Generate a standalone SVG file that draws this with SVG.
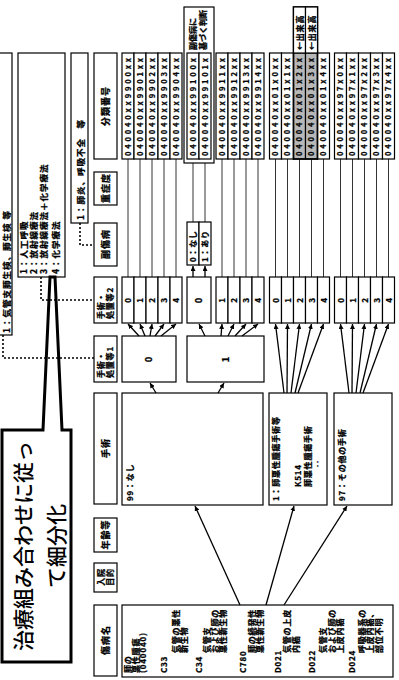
<svg xmlns="http://www.w3.org/2000/svg" width="399" height="680" viewBox="0 0 399 680">
<defs>
<style>
.b{fill:#fff;stroke:#000;stroke-width:1.2}
.t{font-family:"Noto Sans CJK JP","Noto Sans",sans-serif;font-size:8px;font-weight:bold;fill:#000;stroke:#000;stroke-width:0.3;letter-spacing:0.8px}
.h{font-size:9px;letter-spacing:1px}
.d{font-size:8.5px;letter-spacing:1px}
.s{letter-spacing:0}
.c{text-anchor:middle}
.code{font-family:"Noto Sans CJK JP","Noto Sans",sans-serif;font-size:7.5px;font-weight:bold;fill:#000;stroke:#000;stroke-width:0.25}
.ln{stroke:#000;stroke-width:0.8;fill:none}
.ar{stroke:#000;stroke-width:1.3;fill:none;marker-end:url(#ah)}
.dot{stroke:#000;stroke-width:1.6;fill:none;stroke-dasharray:2 2}
.sh{fill:#b8b8b8;stroke:#000;stroke-width:1.2}
.big{font-family:"Noto Sans CJK JP","Noto Sans",sans-serif;font-size:21px;font-weight:500;fill:#000;text-anchor:middle}
</style>
<marker id="ah" viewBox="0 0 10 10" refX="10" refY="5" markerWidth="5" markerHeight="5" markerUnits="userSpaceOnUse" orient="auto"><path d="M0,0 L10,5 L0,10 z"/></marker>
</defs>
<rect width="399" height="680" fill="#fff"/>
<g transform="translate(0,680) rotate(-90)">

<!-- headers -->
<g id="hdr-bunrui"><rect class="b" x="521" y="94" width="106" height="23"/><text class="t h c" x="574" y="108.5">分類番号</text></g>
<g id="hdr-jusho"><rect class="b" x="475" y="94" width="33" height="23"/><text class="t h c" x="492" y="108.5">重症度</text></g>
<g id="hdr-fukushobyo"><rect class="b" x="414" y="94" width="43" height="23"/><text class="t h c" x="436" y="108.5">副傷病</text></g>
<g id="hdr-shochi2"><rect class="b" x="357" y="94" width="46" height="23"/><text class="t" x="361" y="103.5">手術・</text><text class="t" x="361" y="113">処置等2</text></g>
<g id="hdr-shochi1"><rect class="b" x="298" y="94" width="46" height="23"/><text class="t" x="302" y="103.5">手術・</text><text class="t" x="302" y="113">処置等1</text></g>
<g id="hdr-shujutsu"><rect class="b" x="176" y="94" width="111" height="23"/><text class="t h c" x="232" y="108.5">手術</text></g>
<g id="hdr-nenrei"><rect class="b" x="128" y="94" width="34" height="23"/><text class="t h c" x="145.5" y="108.5">年齢等</text></g>
<g id="hdr-nyuin"><rect class="b" x="88" y="94" width="29" height="23"/><text class="t c" x="103" y="104">入院</text><text class="t c" x="103" y="113">目的</text></g>
<g id="hdr-shobyo"><rect class="b" x="4" y="94" width="71" height="23"/><text class="t h c" x="40" y="108.5">傷病名</text></g>

<!-- definition boxes -->
<g id="def-shochi1"><rect class="b" x="345" y="-3" width="282" height="15"/><text class="t d" x="347" y="9.5">1：気管支肺生検、肺生検 等</text></g>
<g id="def-shochi2"><rect class="b" x="403" y="18" width="224" height="47"/>
<text class="t d" x="406" y="26.5">1：人工呼吸</text>
<text class="t d" x="406" y="36.5">2：放射線療法</text>
<text class="t d" x="406" y="46.5">3：放射線療法＋化学療法</text>
<text class="t d" x="406" y="58.5">4：化学療法</text></g>
<g id="def-fuku"><rect class="b" x="457" y="71" width="170" height="17"/><text class="t d" x="460" y="83.5">1：肺炎、呼吸不全　等</text></g>

<!-- callout -->
<g id="callout"><path d="M18,2 L250,2 L250,43 L403,50 L403,55 L250,62 L250,71 L18,71 Z" fill="#fff" stroke="#000" stroke-width="3" stroke-linejoin="miter"/>
<text class="big" x="134" y="31">治療組み合わせに従っ</text>
<text class="big" x="134" y="63.5">て細分化</text></g>

<!-- diagnosis -->
<g id="node-diag"><rect class="b" x="3" y="122" width="72" height="271"/>
<text class="t" x="7" y="131">肺の</text>
<text class="t" x="7" y="138.5">悪性腫瘍</text>
<text class="t" x="7" y="146">(040040)</text>
<text class="t" x="7" y="167">C33</text>
<text class="t" x="27" y="178.5">気管の悪性</text>
<text class="t" x="27" y="186.5">新生物</text>
<text class="t" x="7" y="201.5">C34</text>
<text class="t" x="27" y="210">気管支</text>
<text class="t" x="27" y="218">および肺の</text>
<text class="t" x="27" y="226">悪性新生物</text>
<text class="t" x="7" y="246">C780</text>
<text class="t" x="27" y="255">肺の続発性</text>
<text class="t" x="27" y="263">悪性新生物</text>
<text class="t" x="7" y="281">D021</text>
<text class="t" x="27" y="290">気管の上皮</text>
<text class="t" x="27" y="299">内癌</text>
<text class="t" x="7" y="315">D022</text>
<text class="t" x="27" y="326">気管支</text>
<text class="t" x="27" y="334.5">および肺の</text>
<text class="t" x="27" y="343">上皮内癌</text>
<text class="t" x="7" y="355">D024</text>
<text class="t" x="27" y="364.5">呼吸器系の</text>
<text class="t" x="27" y="373">上皮内癌、</text>
<text class="t" x="27" y="381.5">部位不明</text>
</g>

<!-- surgery -->
<g id="node-sx99"><rect class="b" x="175" y="122" width="112" height="141"/><text class="t" x="179" y="132.5">99：なし</text></g>
<g id="node-sx01"><rect class="b" x="175" y="269" width="112" height="58"/>
<text class="t" x="179" y="278.5">1：肺悪性腫瘍手術等</text>
<text class="t" x="193" y="300.5">K514</text>
<text class="t" x="193" y="311">肺悪性腫瘍手術</text>
<text class="t" x="212" y="321">‥</text></g>
<g id="node-sx97"><rect class="b" x="175" y="334" width="112" height="58"/><text class="t" x="179" y="344.5">97：その他の手術</text></g>

<!-- proc1 -->
<g id="node-p1-0"><rect class="b" x="298" y="122" width="46" height="54"/><text class="t h c" x="321" y="152">0</text></g>
<g id="node-p1-1"><rect class="b" x="298" y="187" width="46" height="77"/><text class="t h c" x="321" y="228.5">1</text></g>

<!-- proc2 -->
<g id="node-p2-a">
<rect class="b" x="357" y="122" width="46" height="12"/><rect class="b" x="357" y="134" width="46" height="12"/><rect class="b" x="357" y="146" width="46" height="12"/><rect class="b" x="357" y="158" width="46" height="12"/><rect class="b" x="357" y="170" width="46" height="12"/>
<text class="t c" x="380" y="131">0</text><text class="t c" x="380" y="143">1</text><text class="t c" x="380" y="155">2</text><text class="t c" x="380" y="167">3</text><text class="t c" x="380" y="179">4</text></g>
<g id="node-p2-b"><rect class="b" x="357" y="187" width="46" height="24"/><text class="t h c" x="380" y="202">0</text></g>
<g id="node-p2-c">
<rect class="b" x="357" y="216" width="46" height="12"/><rect class="b" x="357" y="228" width="46" height="12"/><rect class="b" x="357" y="240" width="46" height="12"/><rect class="b" x="357" y="252" width="46" height="12"/>
<text class="t c" x="380" y="225">1</text><text class="t c" x="380" y="237">2</text><text class="t c" x="380" y="249">3</text><text class="t c" x="380" y="261">4</text></g>
<g id="node-p2-d">
<rect class="b" x="357" y="269.5" width="46" height="12"/><rect class="b" x="357" y="281.5" width="46" height="12"/><rect class="b" x="357" y="293.5" width="46" height="12"/><rect class="b" x="357" y="305.5" width="46" height="12"/><rect class="b" x="357" y="317.5" width="46" height="12"/>
<text class="t c" x="380" y="278.5">0</text><text class="t c" x="380" y="290.5">1</text><text class="t c" x="380" y="302.5">2</text><text class="t c" x="380" y="314.5">3</text><text class="t c" x="380" y="326.5">4</text></g>
<g id="node-p2-e">
<rect class="b" x="357" y="334.5" width="46" height="12"/><rect class="b" x="357" y="346.5" width="46" height="12"/><rect class="b" x="357" y="358.5" width="46" height="12"/><rect class="b" x="357" y="370.5" width="46" height="12"/><rect class="b" x="357" y="382.5" width="46" height="12"/>
<text class="t c" x="380" y="343.5">0</text><text class="t c" x="380" y="355.5">1</text><text class="t c" x="380" y="367.5">2</text><text class="t c" x="380" y="379.5">3</text><text class="t c" x="380" y="391.5">4</text></g>

<!-- fukushobyo -->
<g id="node-fuku"><rect class="b" x="415" y="187" width="43" height="12"/><rect class="b" x="415" y="199" width="43" height="12"/>
<text class="t" x="418" y="196">0：なし</text><text class="t" x="418" y="208">1：あり</text></g>

<!-- codes -->
<g id="codes-a">
<rect class="b" x="521" y="122" width="106" height="12"/><rect class="b" x="521" y="134" width="106" height="12"/><rect class="b" x="521" y="146" width="106" height="12"/><rect class="b" x="521" y="158" width="106" height="12"/><rect class="b" x="521" y="170" width="106" height="12"/>
<text class="code" x="524" y="130.7" textLength="98">040040xx9900xx</text>
<text class="code" x="524" y="142.7" textLength="98">040040xx9901xx</text>
<text class="code" x="524" y="154.7" textLength="98">040040xx9902xx</text>
<text class="code" x="524" y="166.7" textLength="98">040040xx9903xx</text>
<text class="code" x="524" y="178.7" textLength="98">040040xx9904xx</text></g>
<g id="codes-b"><rect class="b" x="517" y="184" width="156" height="30"/>
<rect class="b" x="521" y="187" width="106" height="12"/><rect class="b" x="521" y="199" width="106" height="12"/>
<text class="code" x="524" y="195.7" textLength="98">040040xx99100x</text>
<text class="code" x="524" y="207.7" textLength="98">040040xx99101x</text>
<text class="t s" x="630" y="196">副傷病に</text>
<text class="t s" x="630" y="206">基づく判断</text></g>
<g id="codes-c">
<rect class="b" x="521" y="216" width="106" height="12"/><rect class="b" x="521" y="228" width="106" height="12"/><rect class="b" x="521" y="240" width="106" height="12"/><rect class="b" x="521" y="252" width="106" height="12"/>
<text class="code" x="524" y="224.7" textLength="98">040040xx9911xx</text>
<text class="code" x="524" y="236.7" textLength="98">040040xx9912xx</text>
<text class="code" x="524" y="248.7" textLength="98">040040xx9913xx</text>
<text class="code" x="524" y="260.7" textLength="98">040040xx9914xx</text></g>
<g id="codes-d">
<rect class="b" x="521" y="269.5" width="106" height="12"/><rect class="b" x="521" y="281.5" width="106" height="12"/><rect class="sh" x="521" y="293.5" width="106" height="12"/><rect class="sh" x="521" y="305.5" width="106" height="12"/><rect class="b" x="521" y="317.5" width="106" height="12"/>
<rect x="521" y="293.5" width="152" height="24" fill="none" stroke="#000" stroke-width="1.6"/>
<rect class="b" x="627" y="293.5" width="46" height="12"/><rect class="b" x="627" y="305.5" width="46" height="12"/>
<text class="code" x="524" y="278.2" textLength="98">040040xx01x0xx</text>
<text class="code" x="524" y="290.2" textLength="98">040040xx01x1xx</text>
<text class="code" x="524" y="302.2" textLength="98">040040xx01x2xx</text>
<text class="code" x="524" y="314.2" textLength="98">040040xx01x3xx</text>
<text class="code" x="524" y="326.2" textLength="98">040040xx01x4xx</text>
<text class="t" x="630" y="302.5">←出来高</text>
<text class="t" x="630" y="314.5">←出来高</text></g>
<g id="codes-e">
<rect class="b" x="521" y="334.5" width="106" height="12"/><rect class="b" x="521" y="346.5" width="106" height="12"/><rect class="b" x="521" y="358.5" width="106" height="12"/><rect class="b" x="521" y="370.5" width="106" height="12"/><rect class="b" x="521" y="382.5" width="106" height="12"/>
<text class="code" x="524" y="343.2" textLength="98">040040xx97x0xx</text>
<text class="code" x="524" y="355.2" textLength="98">040040xx97x1xx</text>
<text class="code" x="524" y="367.2" textLength="98">040040xx97x2xx</text>
<text class="code" x="524" y="379.2" textLength="98">040040xx97x3xx</text>
<text class="code" x="524" y="391.2" textLength="98">040040xx97x4xx</text></g>

<!-- connectors -->
<g id="connectors">
<path class="ar" d="M75,240 L174,195"/>
<path class="ar" d="M75,266 L174,294"/>
<path class="ar" d="M75,284 L174,347"/>
<path class="ar" d="M287,156 L297,150"/>
<path class="ar" d="M287,218 L297,224"/>
<path class="ar" d="M344,139 L356,128"/>
<path class="ar" d="M344,145 L356,140"/>
<path class="ar" d="M344,150 L356,152"/>
<path class="ar" d="M344,155 L356,164"/>
<path class="ar" d="M344,161 L356,176"/>
<path class="ar" d="M344,205 L356,199"/>
<path class="ar" d="M344,221 L356,222"/>
<path class="ar" d="M344,228 L356,234"/>
<path class="ar" d="M344,235 L356,246"/>
<path class="ar" d="M344,242 L356,258"/>
<path class="ar" d="M287,284 L356,275.5"/>
<path class="ar" d="M287,287 L356,287.5"/>
<path class="ar" d="M287,291 L356,299.5"/>
<path class="ar" d="M287,295 L356,311.5"/>
<path class="ar" d="M287,298 L356,323.5"/>
<path class="ar" d="M287,349 L356,340.5"/>
<path class="ar" d="M287,352 L356,352.5"/>
<path class="ar" d="M287,356 L356,364.5"/>
<path class="ar" d="M287,360 L356,376.5"/>
<path class="ar" d="M287,363 L356,388.5"/>
<path class="ar" d="M403,193 L414,193"/>
<path class="ar" d="M403,205 L414,205"/>
<path class="ln" d="M403,128 L521,128 M403,140 L521,140 M403,152 L521,152 M403,164 L521,164 M403,176 L521,176"/>
<path class="ln" d="M458,193 L517,193 M458,205 L517,205"/>
<path class="ln" d="M403,222 L521,222 M403,234 L521,234 M403,246 L521,246 M403,258 L521,258"/>
<path class="ln" d="M403,275.5 L521,275.5 M403,287.5 L521,287.5 M403,299.5 L521,299.5 M403,311.5 L521,311.5 M403,323.5 L521,323.5"/>
<path class="ln" d="M403,340.5 L521,340.5 M403,352.5 L521,352.5 M403,364.5 L521,364.5 M403,376.5 L521,376.5 M403,388.5 L521,388.5"/>
<path class="dot" d="M345,3 L322,3 L322,94"/>
<path class="dot" d="M403,41 L380,41 L380,94"/>
<path class="dot" d="M457,80 L435,80 L435,94"/>
</g>
</g>
</svg>
